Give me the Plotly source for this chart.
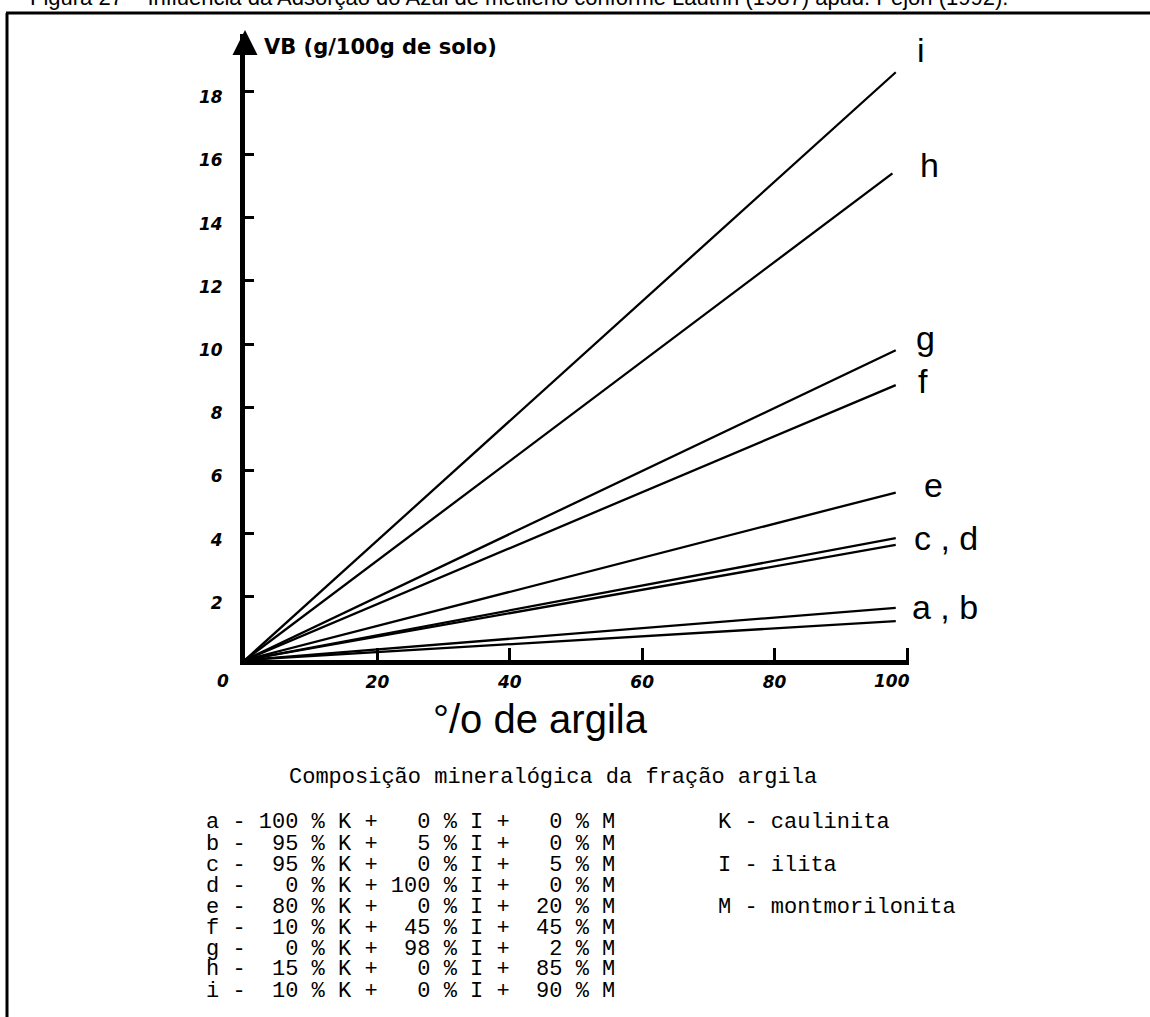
import plotly.graph_objects as go

# ---------------- data ----------------
series = ["a", "b", "c", "d", "e", "f", "g", "h", "i"]
x_end = [98.3, 98.3, 98.3, 98.3, 98.3, 98.3, 98.3, 97.8, 98.3]
vb_end = [1.23, 1.65, 3.86, 3.64, 5.3, 8.7, 9.8, 15.4, 18.6]

line_labels = ["i", "h", "g", "f", "e", "c , d", "a , b"]
line_label_y = [19.3, 15.66, 10.19, 8.83, 5.54, 3.86, 1.68]
line_label_x = [101.2, 101.6, 101.0, 101.3, 102.3, 100.8, 100.4]

y_ticks = [2, 4, 6, 8, 10, 12, 14, 16, 18]
x_ticks = [20, 40, 60, 80, 100]
x_ticktext = ["20", "40", "60", "80", ""]

pct_K = [100, 95, 95, 0, 80, 10, 0, 15, 10]
pct_I = [0, 5, 0, 100, 0, 45, 98, 0, 0]
pct_M = [0, 0, 5, 0, 20, 45, 2, 85, 90]
legend_lines = ["K - caulinita", "I - ilita", "M - montmorilonita"]

title_text = ("Figura 27 \u2013 Influência da Adsorção do Azul de metileno conforme "
              "Lautrin (1987) apud. Pejon (1992).")
y_title = "VB (g/100g de solo)"
x_title = "°/o de argila"
table_title = "Composição mineralógica da fração argila"

# ---------------- layout geometry ----------------
W, H = 1150, 1017
L, T = 245, 34
PW, PH = 664, 626
R, B = W - L - PW, H - T - PH
XPX = 6.62   # px per x unit
YPX = 31.6   # px per y unit
XMAX = PW / XPX
YMAX = PH / YPX


def px_x(p):
    return (p - L) / PW


def px_y(p):
    return (T + PH - p) / PH


def nb(s):
    return s.replace(" ", "\u00a0")


fig = go.Figure()
for s, xe, ve in zip(series, x_end, vb_end):
    fig.add_trace(go.Scatter(x=[0, xe], y=[0, ve], mode="lines", name=s,
                             line=dict(color="black", width=2.3),
                             hoverinfo="skip", showlegend=False))

tickfont = dict(family="DejaVu Sans", size=17, color="black", weight="bold", style="italic")
ann = []
# line labels (paper coords computed from data values via axis scale)
for t, xv, yv in zip(line_labels, line_label_x, line_label_y):
    ann.append(dict(x=xv / XMAX, y=yv / YMAX, xref="paper", yref="paper", text=nb(t),
                    showarrow=False, xanchor="left", yanchor="middle",
                    font=dict(family="Liberation Sans", size=34, color="black")))
# special x labels
ann.append(dict(x=0, y=0, xref="x", yref="y", text="0", showarrow=False,
                xshift=-22, yshift=-21, font=tickfont))
ann.append(dict(x=100, y=0, xref="x", yref="y", text="100", showarrow=False,
                xshift=-15, yshift=-21, font=tickfont))
# y axis arrow
ann.append(dict(x=0, y=px_y(30), xref="paper", yref="paper", ax=0, ay=24,
                showarrow=True, arrowhead=2, arrowsize=1.0, arrowwidth=5,
                arrowcolor="black", text=""))
# y title
ann.append(dict(x=px_x(262), y=px_y(47), xref="paper", yref="paper", text=y_title,
                showarrow=False, xanchor="left", yanchor="middle",
                font=dict(family="DejaVu Sans", size=21, color="black", weight="bold")))
# x title
ann.append(dict(x=px_x(540), y=px_y(719), xref="paper", yref="paper", text=x_title,
                showarrow=False, xanchor="center", yanchor="middle",
                font=dict(family="Liberation Sans", size=40, color="black")))
# figure caption (clipped at top)
ann.append(dict(x=px_x(28), y=px_y(-2), xref="paper", yref="paper", text=title_text,
                showarrow=False, xanchor="left", yanchor="middle",
                font=dict(family="Liberation Sans", size=22, color="black")))
# table title
ann.append(dict(x=px_x(287), y=px_y(778), xref="paper", yref="paper", text=nb(table_title),
                showarrow=False, xanchor="left", yanchor="middle",
                font=dict(family="Liberation Mono", size=22, color="black")))
# table rows
for k, (s, a, b, c) in enumerate(zip(series, pct_K, pct_I, pct_M)):
    row = f"{s} - {a:>3} % K + {b:>3} % I + {c:>3} % M"
    ann.append(dict(x=px_x(205), y=px_y(823 + 21 * k), xref="paper", yref="paper",
                    text=nb(row), showarrow=False, xanchor="left", yanchor="middle",
                    borderpad=0,
                    font=dict(family="Liberation Mono", size=22, color="black")))
for k, t in enumerate(legend_lines):
    ann.append(dict(x=px_x(716), y=px_y(823 + 42 * k), xref="paper", yref="paper",
                    text=nb(t), showarrow=False, xanchor="left", yanchor="middle",
                    font=dict(family="Liberation Mono", size=22, color="black")))

shapes = [
    dict(type="line", xref="paper", yref="paper", x0=px_x(7), x1=px_x(7),
         y0=px_y(13), y1=px_y(H + 5), line=dict(color="black", width=3)),
    dict(type="line", xref="paper", yref="paper", x0=px_x(6), x1=px_x(W + 5),
         y0=px_y(13), y1=px_y(13), line=dict(color="black", width=3)),
]

fig.update_layout(
    width=W, height=H,
    margin=dict(l=L, r=R, t=T, b=B, pad=0),
    paper_bgcolor="white", plot_bgcolor="white",
    annotations=ann, shapes=shapes, showlegend=False,
    xaxis=dict(range=[0, XMAX], showgrid=False, zeroline=False,
               showline=True, linecolor="black", linewidth=5,
               tickmode="array", tickvals=x_ticks, ticktext=x_ticktext,
               ticks="inside", ticklen=12, tickwidth=3, tickcolor="black",
               ticklabelstandoff=3, tickfont=tickfont),
    yaxis=dict(range=[0, YMAX], showgrid=False, zeroline=False,
               showline=True, linecolor="black", linewidth=5,
               tickmode="array", tickvals=y_ticks, ticktext=[str(v) for v in y_ticks],
               ticks="inside", ticklen=9, tickwidth=3, tickcolor="black",
               ticklabelstandoff=14, ticklabelshift=6, tickfont=tickfont),
)

fig.write_html("out.html", config={"displayModeBar": False},
               post_script="document.body.style.margin='0';document.body.style.overflow='hidden';")
